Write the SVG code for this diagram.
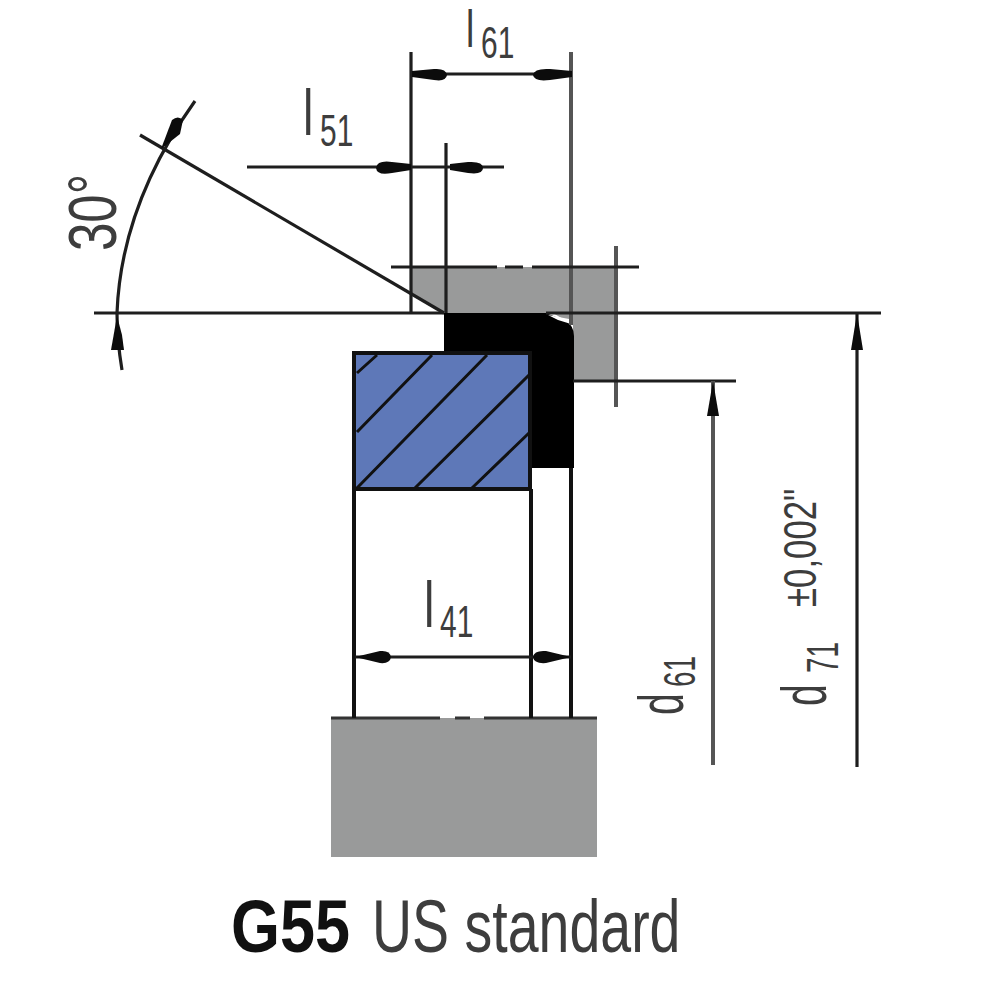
<svg xmlns="http://www.w3.org/2000/svg" width="1000" height="1000" viewBox="0 0 1000 1000">
<style>
.t{font-family:"Liberation Sans",Arial,sans-serif;fill:#3d3d3d}
.o{fill:none;stroke:#111;stroke-width:4}
.d{fill:none;stroke:#1e1e1e;stroke-width:3.2}
.e{fill:none;stroke:#555;stroke-width:4}
.g{fill:#999a9a}
.a{fill:#0c0c0c}
</style>
<rect width="1000" height="1000" fill="#fff"/>
<g id="housing-top">
<path class="g" d="M412 267H615V381H573V325L553 313H444L412 293Z"/>
</g>
<g id="housing-bottom">
<rect class="g" x="331" y="718" width="266" height="139"/>
<path d="M331 718H440M455 718H470M484 718H597" fill="none" stroke="#333" stroke-width="3"/>
</g>
<g id="seal">
<path d="M444 313H546L566 321Q574 326 574 336V468H530V352H444Z" fill="#000"/>
<path d="M548 315L569 319L571 324L558 320Z" fill="#fff"/>
</g>
<g id="piston">
<rect x="354" y="353" width="175" height="136" fill="#5e78b8"/>
<path d="M357 373L377 355M357 432L432 355M357 488L487 355M415 488L529 375M472 488L529 433" fill="none" stroke="#111" stroke-width="3"/>
<rect x="354" y="353" width="176" height="136" class="o"/>
</g>
<g id="connectors">
<path class="o" d="M354 489V718M531 489V718M571 468V718"/>
<path class="d" d="M411 52V313M446 143V313"/>
<path class="e" d="M571 52V325M616 246V407"/>
<path class="d" d="M391 267H497M505 267H523M532 267H639"/>
<path class="d" d="M94 313H444M546 313H881"/>
<path class="d" d="M573 381H736"/>
<path class="d" d="M140 135L444 313"/>
<path class="d" d="M195 101Q121 205 117 313Q117 340 122 370"/>
<path class="d" d="M412 74H572M247 167H504M355 657H571"/>
<path class="e" stroke-width="3" d="M713 381V765"/>
<path class="d" d="M857 313V767"/>
<g class="a">
<path d="M412 71L434 69Q446 68 447 75Q446 82 434 80L412 77Z"/>
<path d="M572 71L550 69Q534 68 533 75Q534 82 550 80L572 77Z"/>
<path d="M411 164L392 162Q377 160 376 168Q377 176 392 173L411 170Z"/>
<path d="M450 164L468 162Q483 161 483 168Q483 175 468 173L450 170Z"/>
<path d="M355 657L380 651Q390 650 391 657Q390 664 380 663Z"/>
<path d="M571 657L546 651Q534 650 533 657Q534 664 546 663Z"/>
<path d="M713 381L707 416H719Z"/>
<path d="M857 313L851 350H863Z"/>
<path d="M117 316L111 350H124L122 335Z"/>
<path d="M161 149L172 120Q178 115 183 120L180 134Z"/>
</g>
</g>
<g id="labels">
<text class="t" transform="translate(466 47) scale(.72 1)" font-size="52">l</text>
<text class="t" transform="translate(481 58) scale(.68 1)" font-size="44">61</text>
<text class="t" transform="translate(303 135) scale(.72 1)" font-size="65">l</text>
<text class="t" transform="translate(320 146) scale(.68 1)" font-size="44">51</text>
<text class="t" transform="translate(424 627) scale(.72 1)" font-size="65">l</text>
<text class="t" transform="translate(440 637) scale(.68 1)" font-size="44">41</text>
<text class="t" transform="translate(116 251) rotate(-90) scale(.75 1)" font-size="68">30°</text>
<text class="t" transform="translate(683 715) rotate(-90) scale(.62 1)" font-size="63">d</text>
<text class="t" transform="translate(695 687) rotate(-90) scale(.62 1)" font-size="45">61</text>
<text class="t" transform="translate(826 706) rotate(-90) scale(.62 1)" font-size="63">d</text>
<text class="t" transform="translate(838 673) rotate(-90) scale(.62 1)" font-size="45">71</text>
<text class="t" transform="translate(816 607) rotate(-90) scale(.74 1)" font-size="47">±0,002"</text>
<text class="t" transform="translate(231 952) scale(.84 1)" font-size="75" font-weight="700" style="fill:#111">G55</text>
<text class="t" transform="translate(372 952) scale(.74 1)" font-size="75">US standard</text>
</g>
</svg>
